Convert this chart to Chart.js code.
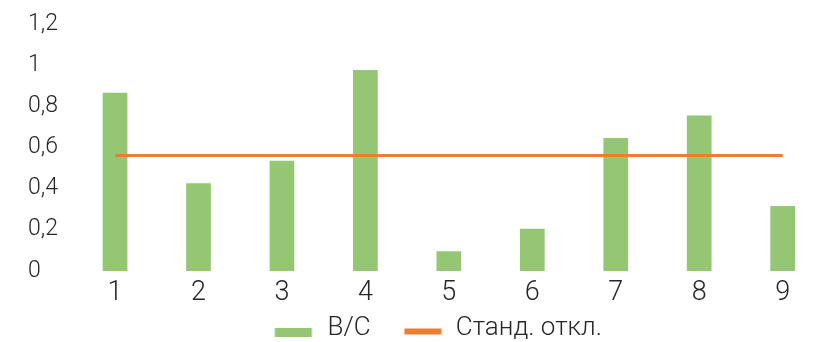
<!DOCTYPE html>
<html>
<head>
<meta charset="utf-8">
<script src="https://cdn.jsdelivr.net/npm/chart.js@4.4.1/dist/chart.umd.min.js"></script>
<style>
  html, body { margin: 0; padding: 0; background: #ffffff; overflow: hidden; }
  #wrap { width: 819px; height: 342px; overflow: hidden; position: relative; }
  #chart { display: block; }
</style>
</head>
<body>
<div id="wrap"><canvas id="chart" width="826" height="351"></canvas></div>
<script>
// Categories and series values
const categories = ['1', '2', '3', '4', '5', '6', '7', '8', '9'];
const ratioValues = [0.87, 0.43, 0.54, 0.98, 0.10, 0.21, 0.65, 0.76, 0.32];
const stdDevValues = [0.56, 0.56, 0.56, 0.56, 0.56, 0.56, 0.56, 0.56, 0.56];
const seriesNames = ['В/С', 'Станд. откл.'];
const yTickLabels = ['0', '0,2', '0,4', '0,6', '0,8', '1', '1,2'];

const GREEN = '#94C674';
const ORANGE = '#ED7D31';
const TEXT = '#262626';
const FONT = 'Roboto, "Noto Sans", sans-serif';

// Legend swatches: the coloured strip sits at the right of a wider,
// partly transparent slot, a little below the text's middle line.
const SLOT_W = 64;
function makeMarker(color, h, centerY, gapRight) {
  const c = document.createElement('canvas');
  c.width = SLOT_W;
  c.height = 18;
  const g = c.getContext('2d');
  g.fillStyle = color;
  g.fillRect(SLOT_W - gapRight - 37, centerY - h / 2, 37, h);
  return c;
}
const barMarker = makeMarker(GREEN, 9, 13.5, 2.7);
const lineMarker = makeMarker(ORANGE, 6, 12.5, 1.4);

new Chart(document.getElementById('chart'), {
  data: {
    labels: categories,
    datasets: [
      {
        type: 'bar',
        label: seriesNames[0],
        data: ratioValues,
        backgroundColor: GREEN,
        borderColor: 'rgba(255,255,255,0.25)',
        borderWidth: 1,
        barPercentage: 1,
        categoryPercentage: 0.32,
        order: 2
      },
      {
        type: 'line',
        label: seriesNames[1],
        data: stdDevValues,
        borderColor: ORANGE,
        borderWidth: 3,
        pointRadius: 0,
        fill: false,
        tension: 0,
        order: 1
      }
    ]
  },
  options: {
    responsive: false,
    devicePixelRatio: 1,
    animation: false,
    layout: { padding: { left: 28, right: 1.6, top: 23.8, bottom: 0 } },
    plugins: {
      tooltip: { enabled: false },
      legend: {
        position: 'bottom',
        labels: {
          usePointStyle: true,
          pointStyleWidth: SLOT_W,
          padding: 8.1,
          color: TEXT,
          font: { family: FONT, size: 26, weight: '300' },
          generateLabels: () => [
            { text: seriesNames[0], pointStyle: barMarker, fontColor: TEXT, datasetIndex: 0, hidden: false, lineWidth: 0 },
            { text: seriesNames[1], pointStyle: lineMarker, fontColor: TEXT, datasetIndex: 1, hidden: false, lineWidth: 0 }
          ]
        }
      }
    },
    scales: {
      x: {
        grid: { display: false, drawTicks: false },
        border: { display: false },
        ticks: { color: TEXT, padding: 6, font: { family: FONT, size: 27, weight: '300' } },
        afterFit: (s) => { s.height = 36; }
      },
      y: {
        min: 0,
        max: 1.2,
        grid: { display: false, drawTicks: false },
        border: { display: false },
        ticks: {
          stepSize: 0.2,
          crossAlign: 'far',
          color: TEXT,
          font: { family: FONT, size: 23, weight: '300' },
          callback: (value, index) => yTickLabels[index]
        },
        afterFit: (s) => { s.width = 45.3; }
      }
    }
  }
});
</script>
</body>
</html>
